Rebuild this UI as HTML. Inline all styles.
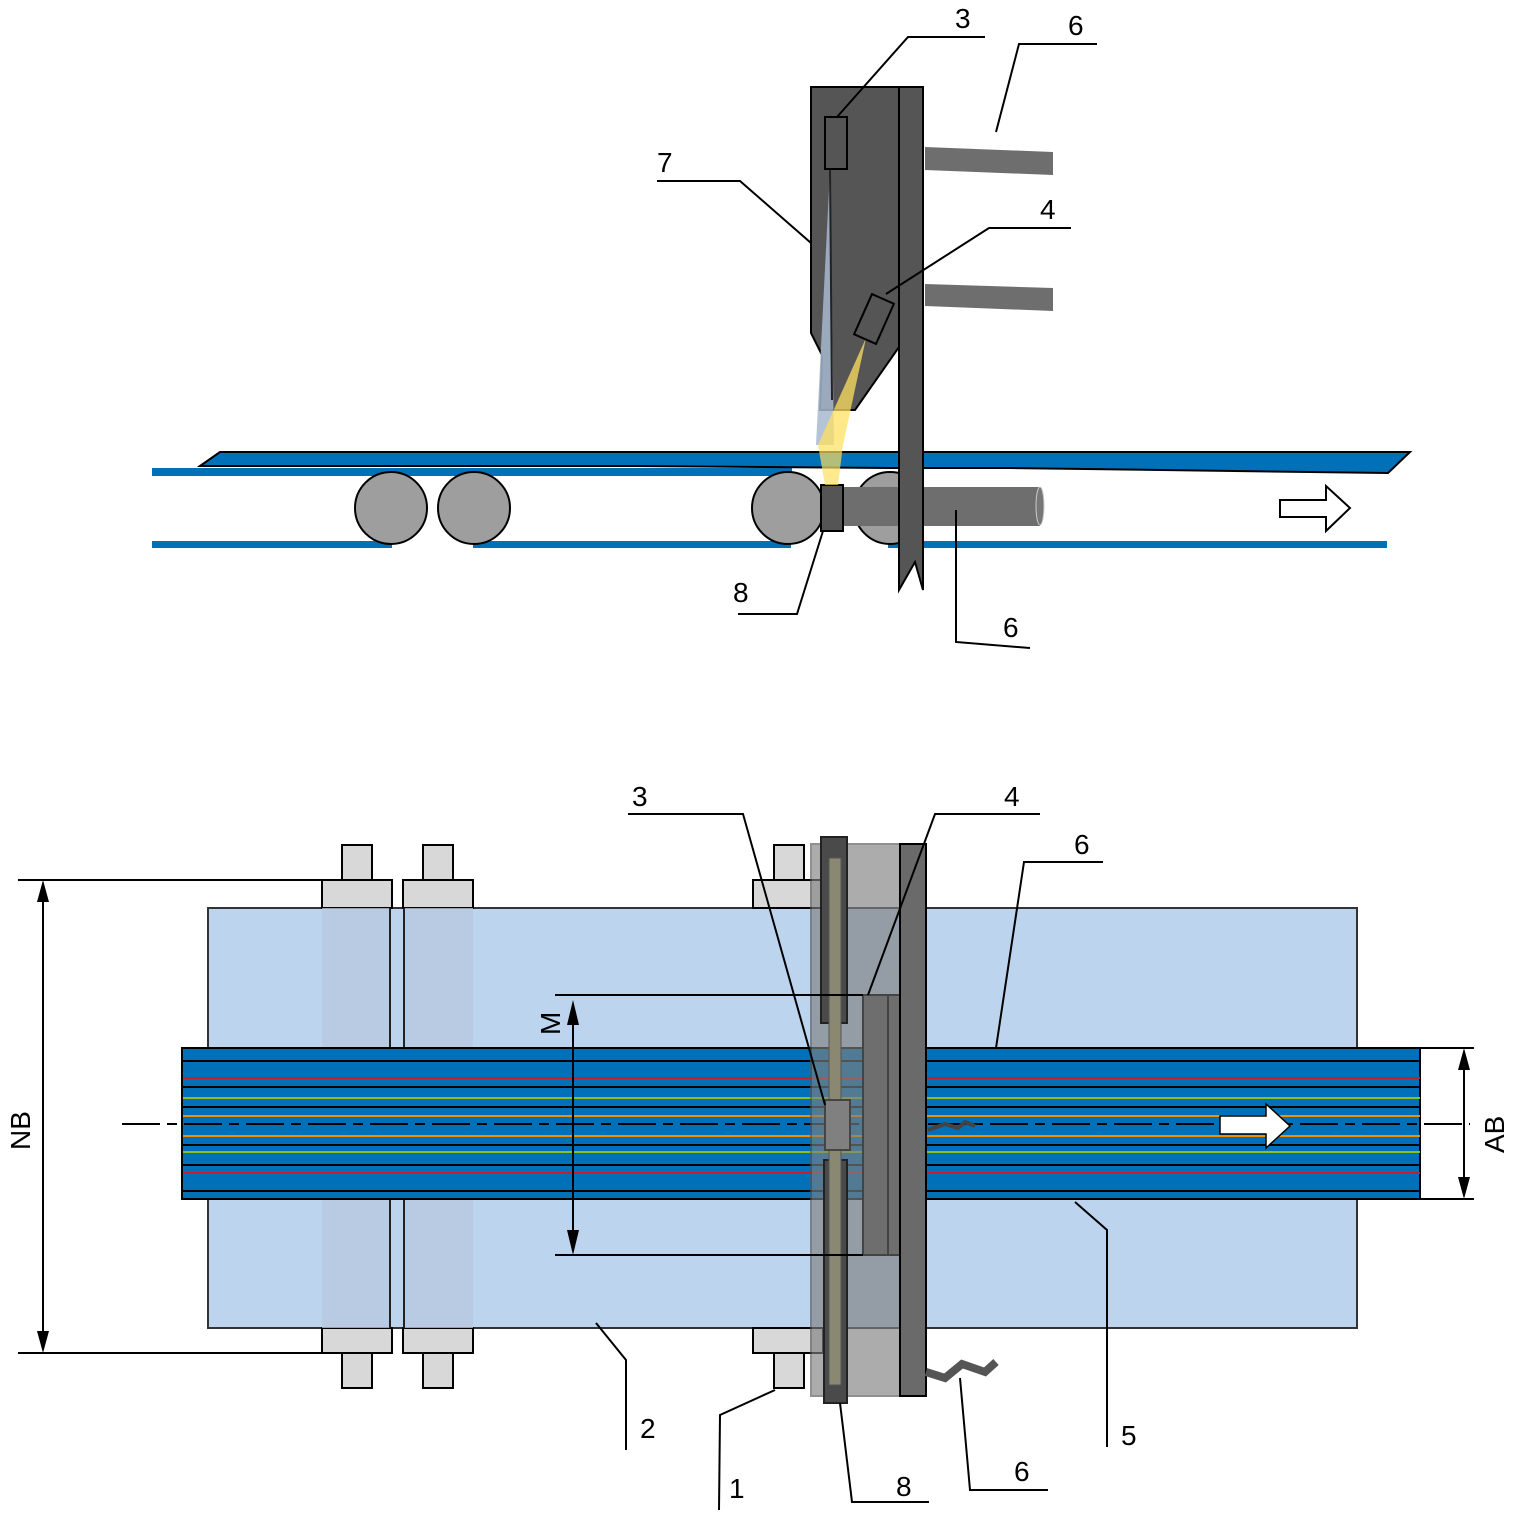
<!DOCTYPE html>
<html><head><meta charset="utf-8"><style>html,body{margin:0;padding:0;background:#fff}svg{display:block}text{font-family:"Liberation Sans",sans-serif;font-size:28px;fill:#000}</style></head>
<body>
<svg width="1520" height="1515" viewBox="0 0 1520 1515" xmlns="http://www.w3.org/2000/svg">
<!-- TOP VIEW -->
<rect x="152" y="468" width="640" height="8" fill="#0070b8"/>
<rect x="152" y="541" width="240" height="7" fill="#0070b8"/>
<rect x="473" y="541" width="318" height="7" fill="#0070b8"/>
<rect x="888" y="541" width="499" height="7" fill="#0070b8"/>
<polygon points="200,466 220,452 1410,452 1388,473 1010,468 895,468 630,466" fill="#0070b8" stroke="#000" stroke-width="2"/>
<circle cx="391" cy="508" r="36" fill="#9e9e9e" stroke="#000" stroke-width="2"/>
<circle cx="474" cy="508" r="36" fill="#9e9e9e" stroke="#000" stroke-width="2"/>
<circle cx="890" cy="508" r="36" fill="#9e9e9e" stroke="#000" stroke-width="2"/>
<circle cx="788" cy="508" r="36" fill="#9e9e9e" stroke="#000" stroke-width="2"/>
<rect x="840" y="487" width="200" height="39" fill="#6e6e6e"/>
<ellipse cx="1040" cy="506" rx="4" ry="19" fill="#777" stroke="#ccc"/>
<rect x="821" y="485" width="22" height="46" fill="#555" stroke="#000" stroke-width="2"/>
<polygon points="811,87 899,87 899,347 855,410 820,410 822,355 811,333" fill="#555" stroke="#000" stroke-width="2"/>
<polygon points="830,170 816,445 834,445" fill="#a8b8d0" opacity="0.85"/>
<polygon points="866,338 818,445 843,445" fill="#ffe060" opacity="0.75"/>
<polygon points="818,445 843,445 838,485 825,485" fill="#ffe060" opacity="0.7"/>
<line x1="830" y1="168" x2="832" y2="400" stroke="#222" stroke-width="2"/>
<rect x="825" y="117" width="22" height="52" fill="#555" stroke="#000" stroke-width="2"/>
<rect x="862" y="297" width="24" height="44" fill="#555" stroke="#000" stroke-width="2" transform="rotate(24 874 319)"/>
<polygon points="899,87 923,87 923,590 915,562 899,590" fill="#555" stroke="#000" stroke-width="2"/>
<polygon points="925,147 1053,152 1053,175 925,170" fill="#6e6e6e"/>
<polygon points="925,284 1053,288 1053,311 925,306" fill="#6e6e6e"/>
<polygon points="1280,500 1326,500 1326,486 1350,508 1326,531 1326,517 1280,517" fill="#fff" stroke="#000" stroke-width="2"/>
<g stroke="#000" stroke-width="2" fill="none">
<polyline points="985,37 908,37 837,117"/>
<polyline points="1097,44 1019,44 996,132"/>
<polyline points="657,181 740,181 811,243"/>
<polyline points="1071,228 989,228 886,294"/>
<polyline points="738,614 797,614 823,531"/>
<polyline points="1030,648 956,642 956,510"/>
</g>
<text x="955" y="28">3</text><text x="1068" y="35">6</text><text x="657" y="172">7</text><text x="1040" y="219">4</text><text x="733" y="602">8</text><text x="1003" y="637">6</text>

<!-- BOTTOM VIEW -->
<rect x="208" y="908" width="1149" height="420" fill="#bcd4ee" stroke="#333" stroke-width="2"/>
<g stroke="#000" stroke-width="2" fill="#d8d8d8">
<rect x="342" y="845" width="30" height="35"/><rect x="423" y="845" width="30" height="35"/><rect x="774" y="845" width="30" height="35"/>
<rect x="322" y="880" width="70" height="28"/><rect x="403" y="880" width="70" height="28"/><rect x="753" y="880" width="70" height="28"/>
<rect x="322" y="1328" width="70" height="25"/><rect x="403" y="1328" width="70" height="25"/><rect x="753" y="1328" width="70" height="25"/>
<rect x="342" y="1353" width="30" height="35"/><rect x="423" y="1353" width="30" height="35"/><rect x="774" y="1353" width="30" height="35"/>
</g>
<rect x="322" y="908" width="68" height="420" fill="#b6c8de" opacity="0.8"/>
<rect x="403" y="908" width="70" height="420" fill="#b6c8de" opacity="0.8"/>
<line x1="390" y1="908" x2="390" y2="1328" stroke="#222" stroke-width="2"/>
<line x1="404" y1="908" x2="404" y2="1328" stroke="#222" stroke-width="2"/>
<!-- strip -->
<rect x="182" y="1048" width="1238" height="151" fill="#0070b8" stroke="#000" stroke-width="2"/>
<g stroke-width="2">
<line x1="183" y1="1061" x2="1420" y2="1061" stroke="#000"/>
<line x1="183" y1="1078" x2="1420" y2="1078" stroke="#c82020"/>
<line x1="183" y1="1087" x2="1420" y2="1087" stroke="#000"/>
<line x1="183" y1="1098" x2="1420" y2="1098" stroke="#8cc020"/>
<line x1="183" y1="1107" x2="1420" y2="1107" stroke="#000"/>
<line x1="183" y1="1116" x2="1420" y2="1116" stroke="#f09000"/>
<line x1="183" y1="1136" x2="1420" y2="1136" stroke="#f09000"/>
<line x1="183" y1="1145" x2="1420" y2="1145" stroke="#000"/>
<line x1="183" y1="1152" x2="1420" y2="1152" stroke="#8cc020"/>
<line x1="183" y1="1165" x2="1420" y2="1165" stroke="#000"/>
<line x1="183" y1="1173" x2="1420" y2="1173" stroke="#c82020"/>
<line x1="183" y1="1191" x2="1420" y2="1191" stroke="#000"/>
</g>
<line x1="122" y1="1124" x2="1470" y2="1124" stroke="#000" stroke-width="2" stroke-dasharray="38,7,10,7"/>
<!-- device -->
<rect x="811" y="844" width="90" height="552" fill="#808080" opacity="0.65" stroke="#555" stroke-width="2"/>
<rect x="821" y="837" width="26" height="186" fill="#4a4a4a" stroke="#222" stroke-width="2"/>
<rect x="824" y="1160" width="23" height="243" fill="#4a4a4a" stroke="#222" stroke-width="2"/>
<rect x="829" y="1023" width="12" height="137" fill="#777" opacity="0.8"/>
<rect x="829" y="858" width="12" height="527" fill="#8a8870" stroke="#555"/>
<rect x="863" y="995" width="37" height="260" fill="#6e6e6e" stroke="#444" stroke-width="2"/>
<line x1="888" y1="995" x2="888" y2="1255" stroke="#444" stroke-width="2"/>
<rect x="825" y="1100" width="25" height="50" fill="#808080" stroke="#444" stroke-width="2"/>
<rect x="900" y="844" width="26" height="552" fill="#6a6a6a" stroke="#000" stroke-width="2"/>
<polygon points="1220,1116 1266,1116 1266,1104 1290,1126 1266,1148 1266,1134 1220,1134" fill="#fff" stroke="#000" stroke-width="1.5"/>
<polyline points="928,1130 945,1124 958,1128 965,1122 975,1126" fill="none" stroke="#444" stroke-width="4"/>
<polyline points="926,1372 945,1378 962,1364 985,1372 996,1362" fill="none" stroke="#555" stroke-width="8"/>
<!-- dims -->
<g stroke="#000" stroke-width="2" fill="none">
<line x1="18" y1="880" x2="322" y2="880"/><line x1="18" y1="1353" x2="322" y2="1353"/>
<line x1="43" y1="895" x2="43" y2="1338"/>
<line x1="555" y1="995" x2="863" y2="995"/><line x1="555" y1="1255" x2="863" y2="1255"/>
<line x1="573" y1="1015" x2="573" y2="1240"/>
<line x1="1420" y1="1048" x2="1474" y2="1048"/><line x1="1420" y1="1199" x2="1474" y2="1199"/>
<line x1="1464" y1="1062" x2="1464" y2="1185"/>
<polyline points="628,814 743,814 825,1105"/>
<polyline points="1040,814 935,814 868,995"/>
<polyline points="1103,862 1024,862 996,1048"/>
<polyline points="596,1323 626,1360 626,1450"/>
<polyline points="719,1510 720,1415 775,1390"/>
<polyline points="929,1502 852,1502 840,1403"/>
<polyline points="1048,1490 970,1490 960,1378"/>
<polyline points="1107,1447 1107,1230 1075,1202"/>
</g>
<g fill="#000">
<polygon points="43,880 37,902 49,902"/><polygon points="43,1353 37,1331 49,1331"/>
<polygon points="573,1000 567,1025 579,1025"/><polygon points="573,1255 567,1230 579,1230"/>
<polygon points="1464,1048 1458,1070 1470,1070"/><polygon points="1464,1199 1458,1177 1470,1177"/>
</g>
<text transform="translate(30,1150) rotate(-90)">NB</text>
<text transform="translate(560,1035) rotate(-90)">M</text>
<text transform="translate(1504,1153) rotate(-90)">AB</text>
<text x="632" y="806">3</text><text x="1004" y="806">4</text><text x="1074" y="854">6</text>
<text x="640" y="1438">2</text><text x="729" y="1498">1</text><text x="896" y="1496">8</text><text x="1014" y="1481">6</text><text x="1121" y="1445">5</text>
</svg>
</body></html>
